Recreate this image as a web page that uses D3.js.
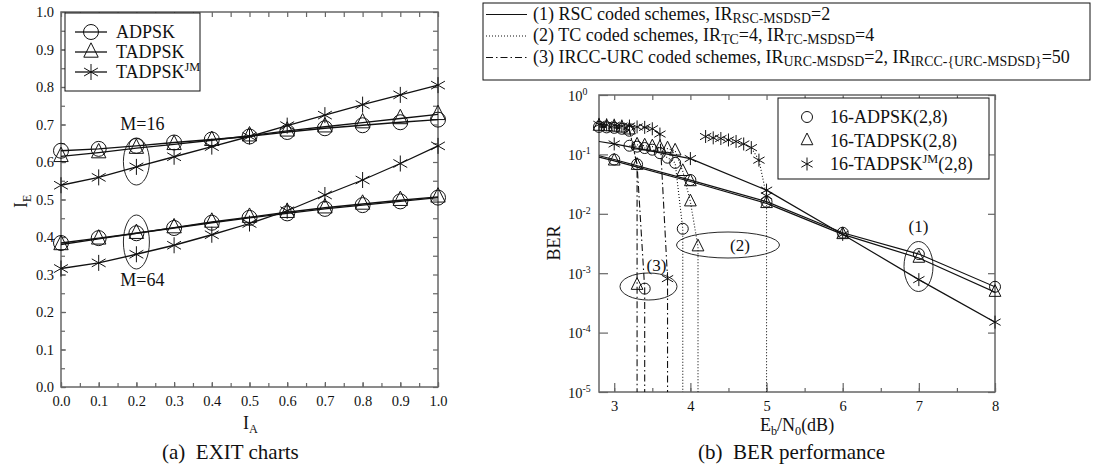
<!DOCTYPE html>
<html>
<head>
<meta charset="utf-8">
<script src="https://cdn.jsdelivr.net/npm/d3@7"></script>
<style>
  body { margin: 0; background: #fff; }
  text { font-family: "Liberation Serif", "Times New Roman", serif; fill: #111; white-space: pre; }
</style>
</head>
<body>
<svg id="chart" width="1095" height="467"></svg>
<script>
// ---- (a) EXIT chart data ----
const iaValues = [0.0, 0.1, 0.2, 0.3, 0.4, 0.5, 0.6, 0.7, 0.8, 0.9, 1.0];
const axisTicks01 = [0.0, 0.1, 0.2, 0.3, 0.4, 0.5, 0.6, 0.7, 0.8, 0.9, 1.0];
const adpsk16  = [0.630, 0.635, 0.643, 0.652, 0.660, 0.668, 0.680, 0.690, 0.698, 0.706, 0.713];
const tadpsk16 = [0.615, 0.625, 0.637, 0.647, 0.658, 0.670, 0.683, 0.694, 0.705, 0.716, 0.727];
const jm16     = [0.538, 0.559, 0.587, 0.614, 0.641, 0.668, 0.697, 0.725, 0.753, 0.779, 0.805];
const adpsk64  = [0.384, 0.397, 0.410, 0.424, 0.438, 0.451, 0.463, 0.475, 0.485, 0.495, 0.505];
const tadpsk64 = [0.380, 0.395, 0.410, 0.425, 0.440, 0.453, 0.466, 0.478, 0.488, 0.498, 0.507];
const jm64     = [0.316, 0.331, 0.354, 0.378, 0.406, 0.436, 0.470, 0.512, 0.552, 0.596, 0.643];

// ---- (b) BER data: [Eb/N0, BER] ----
const ebTicks = [3, 4, 5, 6, 7, 8];
const berTicks = [1, 1e-1, 1e-2, 1e-3, 1e-4, 1e-5];
// (1) RSC, solid
const rscAdpsk  = [[2.8, 0.095], [3, 0.082], [4, 0.037], [5, 0.016], [6, 0.0048], [7, 0.0021], [8, 0.00059]];
const rscTadpsk = [[2.8, 0.090], [3, 0.078], [4, 0.035], [5, 0.015], [6, 0.0045], [7, 0.0018], [8, 0.00048]];
const rscJm     = [[2.8, 0.165], [3, 0.150], [4, 0.085], [5, 0.025], [6, 0.0045], [7, 0.00078], [8, 0.00015]];
// (2) TC, dotted
const tcAdpsk  = [[3.2, 0.14], [3.3, 0.135], [3.4, 0.128], [3.5, 0.12], [3.6, 0.105], [3.7, 0.088], [3.8, 0.072], [3.9, 0.0056], [3.9, 1e-7]];
const tcTadpsk = [[3.3, 0.145], [3.4, 0.14], [3.5, 0.135], [3.6, 0.13], [3.7, 0.125], [3.8, 0.115], [3.9, 0.052], [4.0, 0.016], [4.1, 0.0028], [4.1, 1e-7]];
const tcJm     = [[4.2, 0.2], [4.3, 0.19], [4.4, 0.185], [4.5, 0.175], [4.6, 0.165], [4.7, 0.15], [4.8, 0.13], [4.9, 0.08], [5.0, 0.02], [5.0, 1e-7]];
// (3) IRCC-URC, dash-dot
const ircAdpsk  = [[2.8, 0.29], [2.9, 0.285], [3.0, 0.28], [3.1, 0.27], [3.2, 0.25], [3.3, 0.068], [3.4, 0.00055], [3.4, 1e-7]];
const ircTadpsk = [[2.8, 0.30], [2.9, 0.295], [3.0, 0.29], [3.1, 0.28], [3.2, 0.26], [3.3, 0.066], [3.3, 0.00063], [3.3, 1e-7]];
const ircJm     = [[2.8, 0.32], [2.9, 0.315], [3.0, 0.31], [3.1, 0.30], [3.2, 0.30], [3.3, 0.29], [3.4, 0.285], [3.5, 0.27], [3.6, 0.22], [3.7, 0.00081], [3.7, 1e-7]];

const ink = "#111";
const frame = "#666";
const svg = d3.select("#chart");

// text with sub/superscript parts
function rich(g, x, y, size, parts, anchor, transform, subScale, subShift) {
  const k = subScale || 0.68;
  const down = subShift || 0.24;
  const t = g.append("text").attr("x", x).attr("y", y)
    .style("font-size", size + "px").attr("text-anchor", anchor || "start");
  if (transform) t.attr("transform", transform);
  let shift = 0;
  parts.forEach(p => {
    const str = typeof p === "string" ? p : p[0];
    const mode = typeof p === "string" ? "n" : p[1];
    const target = mode === "sub" ? size * down : mode === "sup" ? -size * 0.4 : 0;
    t.append("tspan").attr("dy", target - shift)
      .style("font-size", (mode === "n" ? size : size * k) + "px").text(str);
    shift = target;
  });
  return t;
}

function marker(g, type, cx, cy, r) {
  if (type === "circle") {
    g.append("circle").attr("cx", cx).attr("cy", cy).attr("r", r)
      .attr("fill", "none").attr("stroke", ink).attr("stroke-width", 1);
  } else if (type === "tri") {
    g.append("path")
      .attr("d", `M${cx},${cy - r * 1.15}L${cx + r * 0.9},${cy + r * 0.65}L${cx - r * 0.9},${cy + r * 0.65}Z`)
      .attr("fill", "none").attr("stroke", ink).attr("stroke-width", 1);
  } else {
    let d = "";
    [90, 30, 150].forEach(a => {
      const dx = r * Math.cos(a * Math.PI / 180), dy = r * Math.sin(a * Math.PI / 180);
      d += `M${cx - dx},${cy + dy}L${cx + dx},${cy - dy}`;
    });
    g.append("path").attr("d", d).attr("stroke", ink).attr("stroke-width", 1);
  }
}

function styleAxis(g, size) {
  g.select(".domain").remove();
  g.selectAll(".tick line").attr("stroke", frame).attr("stroke-width", 1.2);
  g.selectAll("text").style("font-size", size + "px").attr("fill", ink);
}

// =============== (a) EXIT charts ===============
const xA = d3.scaleLinear().domain([0, 1]).range([61, 438]);
const yE = d3.scaleLinear().domain([0, 1]).range([387, 12]);
const minor05 = d3.range(0, 1.0001, 0.05);
const gA = svg.append("g");

gA.append("g").attr("transform", "translate(0,387)")
  .call(d3.axisBottom(xA).tickValues(axisTicks01).tickFormat(d3.format(".1f")).tickSize(-5).tickPadding(9))
  .call(g => styleAxis(g, 14.5));
gA.append("g").attr("transform", "translate(61,0)")
  .call(d3.axisLeft(yE).tickValues(axisTicks01).tickFormat(d3.format(".1f")).tickSize(-5).tickPadding(7))
  .call(g => styleAxis(g, 14.5));
gA.append("g").attr("transform", "translate(0,12)")
  .call(d3.axisTop(xA).tickValues(minor05).tickFormat("").tickSize(-5)).call(g => styleAxis(g, 10));
gA.append("g").attr("transform", "translate(438,0)")
  .call(d3.axisRight(yE).tickValues(minor05).tickFormat("").tickSize(-5)).call(g => styleAxis(g, 10));
gA.append("g").attr("transform", "translate(0,387)")
  .call(d3.axisBottom(xA).tickValues(minor05).tickFormat("").tickSize(-4)).call(g => styleAxis(g, 10));
gA.append("g").attr("transform", "translate(61,0)")
  .call(d3.axisLeft(yE).tickValues(minor05).tickFormat("").tickSize(-4)).call(g => styleAxis(g, 10));
gA.append("rect").attr("x", 61).attr("y", 12).attr("width", 377).attr("height", 375)
  .attr("fill", "none").attr("stroke", frame).attr("stroke-width", 1.5);

const exitSeries = [
  [adpsk16, "circle"], [tadpsk16, "tri"], [jm16, "star"],
  [adpsk64, "circle"], [tadpsk64, "tri"], [jm64, "star"]
];
const lineA = d3.line().x((d, i) => xA(iaValues[i])).y(d => yE(d));
exitSeries.forEach(([vals, type]) => {
  gA.append("path").datum(vals).attr("d", lineA)
    .attr("fill", "none").attr("stroke", ink).attr("stroke-width", 1.3);
  vals.forEach((v, i) => marker(gA, type, xA(iaValues[i]), yE(v), type === "circle" ? 7.5 : 8));
});

// annotations
gA.append("ellipse").attr("cx", xA(0.2)).attr("cy", 161.5).attr("rx", 13).attr("ry", 23.5)
  .attr("fill", "none").attr("stroke", ink).attr("stroke-width", 0.9);
gA.append("ellipse").attr("cx", xA(0.2)).attr("cy", 242).attr("rx", 13).attr("ry", 27)
  .attr("fill", "none").attr("stroke", ink).attr("stroke-width", 0.9);
rich(gA, xA(0.2) + 6, 130, 18, ["M=16"], "middle");
rich(gA, xA(0.2) + 6, 286, 18, ["M=64"], "middle");

// legend
gA.append("rect").attr("x", 65).attr("y", 13).attr("width", 135).attr("height", 78)
  .attr("fill", "#fff").attr("stroke", ink).attr("stroke-width", 1);
const legA = [["ADPSK", "circle", []], ["TADPSK", "tri", []], ["TADPSK", "star", [["JM", "sup"]]]];
legA.forEach(([name, type, extra], i) => {
  const cy = 32 + i * 20;
  gA.append("line").attr("x1", 75).attr("x2", 107).attr("y1", cy).attr("y2", cy)
    .attr("stroke", ink).attr("stroke-width", 1.3);
  marker(gA, type, 91, cy, type === "circle" ? 7.5 : 8);
  rich(gA, 116, cy + 6, 18, [name].concat(extra));
});

rich(gA, 243, 429, 18, ["I", ["A", "sub"]]);
rich(gA, 0, 0, 18, ["I", ["E", "sub"]], "start", "translate(27,208) rotate(-90)");
rich(gA, 162, 459, 21, ["(a)  EXIT charts"]);

// =============== (b) BER performance ===============
const xB = d3.scaleLinear().domain([2.8, 8]).range([599, 995]);
const yB = d3.scaleLog().domain([1e-5, 1]).range([392, 95]);
const halfTicks = d3.range(3, 8.01, 0.5);
const gB = svg.append("g");

gB.append("g").attr("transform", "translate(0,392)")
  .call(d3.axisBottom(xB).tickValues(ebTicks).tickFormat(d3.format("d")).tickSize(-9).tickPadding(9))
  .call(g => styleAxis(g, 14.5));
gB.append("g").attr("transform", "translate(0,392)")
  .call(d3.axisBottom(xB).tickValues(halfTicks).tickFormat("").tickSize(-4)).call(g => styleAxis(g, 10));
gB.append("g").attr("transform", "translate(0,95)")
  .call(d3.axisTop(xB).tickValues(halfTicks).tickFormat("").tickSize(-5)).call(g => styleAxis(g, 10));
gB.append("g").attr("transform", "translate(995,0)")
  .call(d3.axisRight(yB).tickValues(berTicks).tickFormat("").tickSize(-7)).call(g => styleAxis(g, 10));
const yAxisB = gB.append("g").attr("transform", "translate(599,0)")
  .call(d3.axisLeft(yB).tickValues(berTicks).tickFormat("").tickSize(-9))
  .call(g => styleAxis(g, 14));
yAxisB.selectAll(".tick").each(function(d) {
  const exp = Math.round(Math.log10(d));
  rich(d3.select(this), -31, 5, 14.5, ["10", [String(exp), "sup"]], "start");
});
gB.append("rect").attr("x", 599).attr("y", 95).attr("width", 396).attr("height", 297)
  .attr("fill", "none").attr("stroke", frame).attr("stroke-width", 1.5);

svg.append("clipPath").attr("id", "berClip").append("rect")
  .attr("x", 599).attr("y", 95).attr("width", 396).attr("height", 297);

const lineB = d3.line().x(d => xB(d[0])).y(d => yB(d[1]));
const dotted = "1,2";
const dashDot = "7,3,1.5,3";
const berSeries = [
  [rscAdpsk, "circle", null, 3], [rscTadpsk, "tri", null, 3], [rscJm, "star", null, 3],
  [tcAdpsk, "circle", dotted, 0], [tcTadpsk, "tri", dotted, 0], [tcJm, "star", dotted, 0],
  [ircAdpsk, "circle", dashDot, 0], [ircTadpsk, "tri", dashDot, 0], [ircJm, "star", dashDot, 0]
];
const curveG = gB.append("g").attr("clip-path", "url(#berClip)");
berSeries.forEach(([pts, type, dash, xmin]) => {
  curveG.append("path").datum(pts).attr("d", lineB)
    .attr("fill", "none").attr("stroke", ink).attr("stroke-width", dash ? 1.1 : 1.2)
    .attr("stroke-dasharray", dash);
});
berSeries.forEach(([pts, type, dash, xmin]) => {
  pts.filter(p => p[1] >= 1e-5 && p[0] >= xmin)
    .forEach(p => marker(gB, type, xB(p[0]), yB(p[1]), type === "circle" ? 5.5 : 6.5));
});

// annotations
const ann = [[918.5, 266.5, 14.5, 25, "(1)", 918.5, 232], [728, 245, 51.5, 13, "(2)", 740, 251], [648.5, 286.5, 28.5, 13.5, "(3)", 656.5, 271]];
ann.forEach(([cx, cy, rx, ry, label, tx, ty]) => {
  gB.append("ellipse").attr("cx", cx).attr("cy", cy).attr("rx", rx).attr("ry", ry)
    .attr("fill", "none").attr("stroke", ink).attr("stroke-width", 0.9);
  rich(gB, tx, ty, 17, [label], "middle");
});

// inner legend
gB.append("rect").attr("x", 778).attr("y", 98).attr("width", 211).attr("height", 81)
  .attr("fill", "#fff").attr("stroke", ink).attr("stroke-width", 1);
const legB = [["16-ADPSK(2,8)", "circle"], ["16-TADPSK(2,8)", "tri"], ["16-TADPSK", "star"]];
legB.forEach(([name, type], i) => {
  const cy = 117 + i * 23.5;
  marker(gB, type, 807, cy, type === "circle" ? 5.5 : 6.5);
  const parts = type === "star" ? [name, ["JM", "sup"], "(2,8)"] : [name];
  rich(gB, 830, cy + 6, 18, parts);
});

rich(gB, 0, 0, 18, ["BER"], "middle", "translate(560,243) rotate(-90)");
rich(gB, 797, 431, 18, ["E", ["b", "sub"], "/N", ["0", "sub"], "(dB)"], "middle");
rich(gB, 698, 459, 21, ["(b)  BER performance"]);

// top legend
const gT = svg.append("g");
gT.append("rect").attr("x", 483).attr("y", 3).attr("width", 607).attr("height", 77)
  .attr("fill", "#fff").attr("stroke", ink).attr("stroke-width", 1);
const topLeg = [
  [null, ["(1) RSC coded schemes, IR", ["RSC-MSDSD", "sub"], "=2"]],
  [dotted, ["(2) TC coded schemes, IR", ["TC", "sub"], "=4, IR", ["TC-MSDSD", "sub"], "=4"]],
  [dashDot, ["(3) IRCC-URC coded schemes, IR", ["URC-MSDSD", "sub"], "=2, IR", ["IRCC-{URC-MSDSD}", "sub"], "=50"]]
];
topLeg.forEach(([dash, parts], i) => {
  const y = 19.5 + i * 21.5;
  gT.append("line").attr("x1", 486).attr("x2", 527).attr("y1", y - 5).attr("y2", y - 5)
    .attr("stroke", ink).attr("stroke-width", 1.2).attr("stroke-dasharray", dash);
  rich(gT, 533, y, 18, parts, "start", null, 0.77, 0.19);
});
</script>
</body>
</html>
